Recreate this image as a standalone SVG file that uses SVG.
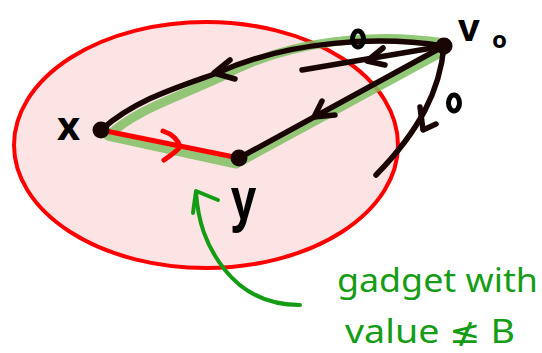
<svg xmlns="http://www.w3.org/2000/svg" width="542" height="353" viewBox="0 0 542 353">
<style>
.edge{fill:none;stroke:#1a0505;stroke-width:5.5;stroke-linecap:round;stroke-linejoin:round}
.hl{fill:none;stroke:#7fbf62;stroke-opacity:0.85;stroke-width:9;stroke-linecap:round;stroke-linejoin:round}
.red{fill:none;stroke:#ff0000;stroke-width:5;stroke-linecap:round;stroke-linejoin:round}
.grn{fill:none;stroke:#159c15;stroke-width:4;stroke-linecap:round;stroke-linejoin:round}
.dot{fill:#1a0505}
.lbl{font-family:"Noto Sans","DejaVu Sans",sans-serif;fill:#000;font-weight:bold}
.gt{font-family:"Noto Sans","DejaVu Sans",sans-serif;fill:#159c15;font-size:32px}
.w{fill:none;stroke:#000;stroke-width:5}
</style>
<g id="gadget">
<ellipse cx="206" cy="145" rx="192" ry="123" fill="#fde4e4" stroke="#ff0000" stroke-width="4"/>
</g>
<g id="connectors">
<path class="hl" d="M444,43 C380,33 290,38 219,78 C178,97 135,110 108,136 L236,164 L444,51"/>
<path class="edge" d="M444,46 C380,36 290,40 217,73 C175,88 135,100 101,130"/>
<path class="edge" d="M230,60 L214,73 L235,79"/>
<path class="edge" d="M444,46 L302,70"/>
<path class="edge" d="M383,48 L367,61 L385,65"/>
<path class="edge" d="M444,46 L239,158"/>
<path class="edge" d="M322,101 L314,117 L335,115"/>
<path class="edge" d="M444,46 C440,90 420,130 376,175"/>
<path class="edge" d="M420,107 L423,130 L436,124"/>
<path class="red" d="M101,130 L239,158"/>
<path class="red" d="M163,131 C172,134 178,140 180,147 C176,152 170,156 164,160"/>
<path class="grn" d="M300,305 C270,305 245,295 225,270 C205,245 198,220 196,192"/>
<path class="grn" d="M193,213 L196,191 L218,200"/>
</g>
<g id="node-x">
<circle class="dot" cx="101" cy="130" r="8.5"/>
<text class="lbl" x="57" y="140" font-size="40">x</text>
</g>
<g id="node-y">
<circle class="dot" cx="239" cy="158" r="8.5"/>
<text class="lbl" x="231" y="219" font-size="44" transform="translate(0,-70) scale(1,1.32)">y</text>
</g>
<g id="node-v0">
<circle class="dot" cx="444" cy="46" r="8.5"/>
<text class="lbl" x="458" y="41" font-size="38">v</text>
<text class="lbl" x="492" y="48" font-size="24">o</text>
</g>
<g id="weights">
<ellipse class="w" cx="358" cy="39" rx="5.5" ry="8"/>
<ellipse class="w" cx="454" cy="103" rx="5.5" ry="8"/>
</g>
<g id="note">
<text class="gt" x="337" y="292" textLength="201" lengthAdjust="spacingAndGlyphs">gadget with</text>
<text class="gt" x="345" y="343" textLength="170" lengthAdjust="spacingAndGlyphs">value ≰ B</text>
</g>
</svg>
